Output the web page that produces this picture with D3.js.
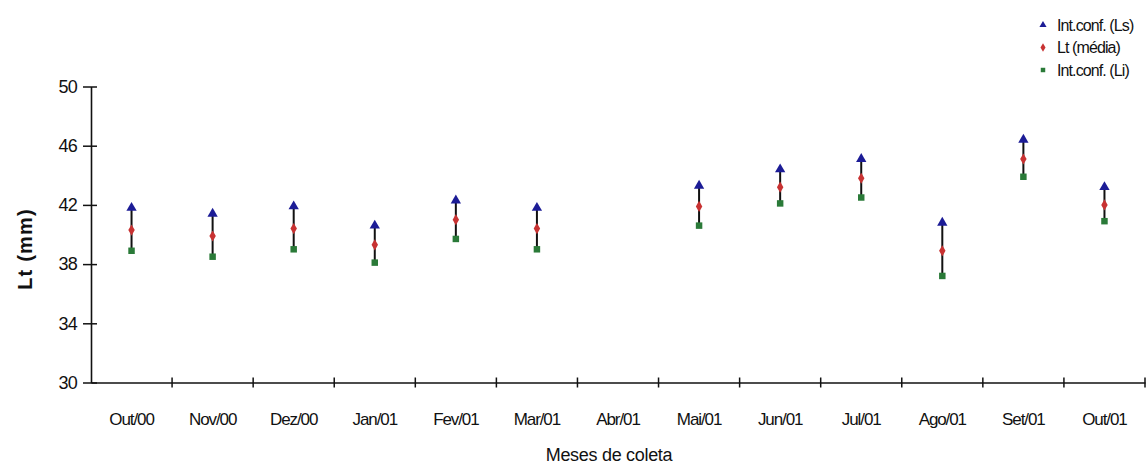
<!DOCTYPE html>
<html>
<head>
<meta charset="utf-8">
<script src="https://cdn.jsdelivr.net/npm/d3@7"></script>
<style>
  body { margin: 0; background: #fff; }
  svg text { font-family: "Liberation Sans", Arial, sans-serif; fill: #111; }
</style>
</head>
<body>
<svg id="chart" width="1148" height="468"></svg>
<script>
// months of sampling (Abr/01 has no data)
var months = ["Out/00", "Nov/00", "Dez/00", "Jan/01", "Fev/01", "Mar/01", "Abr/01",
              "Mai/01", "Jun/01", "Jul/01", "Ago/01", "Set/01", "Out/01"];
var ls    = [41.8, 41.4, 41.9, 40.6, 42.3, 41.8, null, 43.3, 44.4, 45.1, 40.8, 46.4, 43.2];
var media = [40.3, 39.9, 40.4, 39.3, 41.0, 40.4, null, 41.9, 43.2, 43.8, 38.9, 45.1, 42.0];
var li    = [38.9, 38.5, 39.0, 38.1, 39.7, 39.0, null, 40.6, 42.1, 42.5, 37.2, 43.9, 40.9];
var yTicks = [30, 34, 38, 42, 46, 50];
var legendNames = ["Int.conf. (Ls)", "Lt (média)", "Int.conf. (Li)"];
var colors = ["#1c1c96", "#c83232", "#2a7a38"];

var svg = d3.select("#chart");
var plotL = 91, plotR = 1145, plotT = 86.5, plotB = 382.5;

var x = d3.scaleBand().domain(months).range([plotL, plotR]);
var y = d3.scaleLinear().domain([30, 50]).range([plotB, plotT]);

// y axis, ticks cross the line
var yAxis = svg.append("g").attr("transform", "translate(" + plotL + ",0)")
  .call(d3.axisLeft(y).tickValues(yTicks).tickSize(7).tickSizeOuter(0));
yAxis.select(".domain").attr("stroke", "#111").attr("stroke-width", 1.6);
yAxis.selectAll(".tick line").attr("stroke", "#111").attr("stroke-width", 1.5).attr("x2", -8).attr("x1", 6);
yAxis.selectAll(".tick text").attr("x", -14).style("font-size", "18px")
  .style("letter-spacing", "-0.8px").attr("fill", "#222");

// x axis, ticks between the months
var xAxis = svg.append("g").attr("transform", "translate(0," + plotB + ")")
  .call(d3.axisBottom(x).tickSize(0).tickSizeOuter(0));
xAxis.select(".domain").attr("stroke", "#111").attr("stroke-width", 1.6);
xAxis.selectAll(".tick text").attr("y", 42).attr("dy", 0).style("font-size", "17px")
  .style("letter-spacing", "-1.1px").attr("fill", "#222");
var edges = months.map(function(m){ return x(m) + x.bandwidth(); });
svg.append("g").selectAll("line").data(edges).join("line")
  .attr("x1", function(d){ return d; }).attr("x2", function(d){ return d; })
  .attr("y1", plotB - 5).attr("y2", plotB + 5)
  .attr("stroke", "#111").attr("stroke-width", 1.5);

// axis titles
svg.append("text").attr("x", 609).attr("y", 461).attr("text-anchor", "middle")
  .style("font-size", "18px").style("letter-spacing", "-0.3px").text("Meses de coleta");
svg.append("text").attr("transform", "translate(32,249) rotate(-90)").attr("text-anchor", "middle")
  .style("font-size", "20px").style("font-weight", "bold").style("letter-spacing", "1.2px").text("Lt (mm)");

// points data
var pts = months.map(function(m, i){ return {m: m, ls: ls[i], md: media[i], li: li[i]}; })
  .filter(function(d){ return d.ls != null; });
var cx = function(d){ return x(d.m) + x.bandwidth() / 2; };

// high-low lines
svg.append("g").selectAll("line").data(pts).join("line")
  .attr("x1", cx).attr("x2", cx)
  .attr("y1", function(d){ return y(d.li); }).attr("y2", function(d){ return y(d.ls); })
  .attr("stroke", "#111").attr("stroke-width", 2);

var tri = d3.symbol().type(d3.symbolTriangle).size(46);
var dia = d3.symbol().type(d3.symbolDiamond).size(36);
var sq = d3.symbol().type(d3.symbolSquare).size(42);

svg.append("g").selectAll("path").data(pts).join("path")
  .attr("d", tri).attr("fill", colors[0])
  .attr("transform", function(d){ return "translate(" + cx(d) + "," + y(d.ls) + ")"; });
svg.append("g").selectAll("path").data(pts).join("path")
  .attr("d", dia).attr("fill", colors[1])
  .attr("transform", function(d){ return "translate(" + cx(d) + "," + y(d.md) + ")"; });
svg.append("g").selectAll("path").data(pts).join("path")
  .attr("d", sq).attr("fill", colors[2])
  .attr("transform", function(d){ return "translate(" + cx(d) + "," + y(d.li) + ")"; });

// legend
var shapes = [d3.symbol().type(d3.symbolTriangle).size(22), d3.symbol().type(d3.symbolDiamond).size(22), d3.symbol().type(d3.symbolSquare).size(20)];
var leg = svg.append("g").selectAll("g").data(legendNames).join("g")
  .attr("transform", function(d, i){ return "translate(1043," + (25 + i * 22.5) + ")"; });
leg.append("path").attr("d", function(d, i){ return shapes[i](); })
  .attr("fill", function(d, i){ return colors[i]; });
leg.append("text").attr("x", 14).attr("y", 5.5).style("font-size", "16px")
  .style("letter-spacing", "-0.9px").text(function(d){ return d; });
</script>
</body>
</html>
